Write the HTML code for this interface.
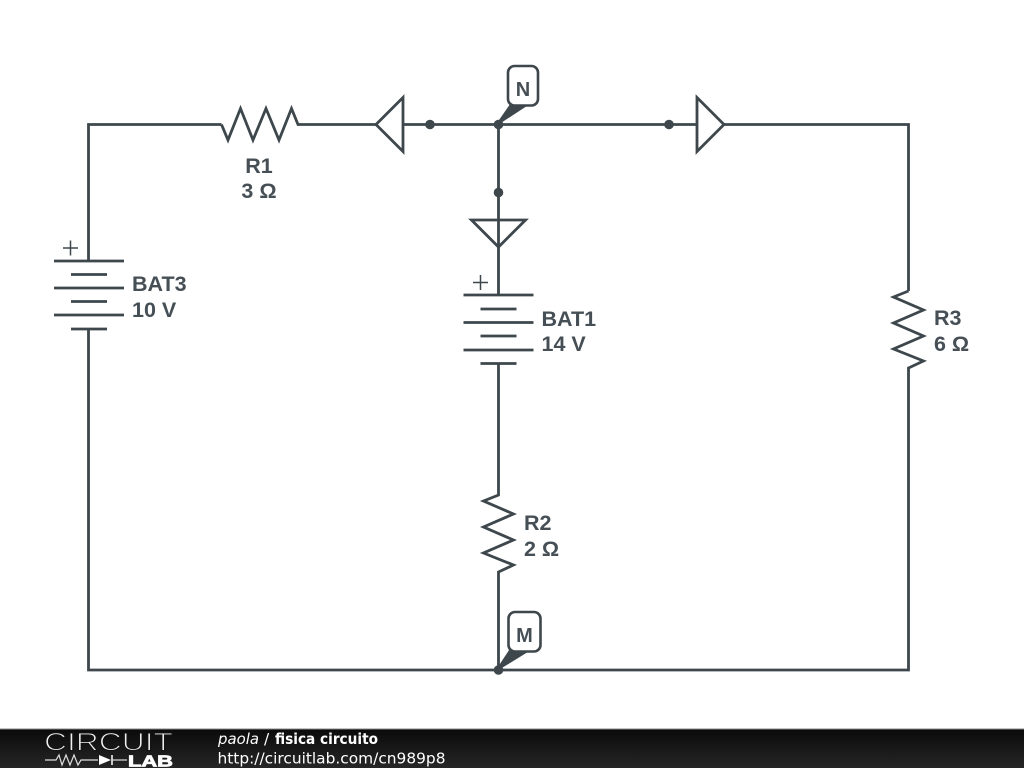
<!DOCTYPE html>
<html>
<head>
<meta charset="utf-8">
<style>
html,body{margin:0;padding:0;background:#fff;width:1024px;height:768px;overflow:hidden}
svg{display:block}
.l{font-family:"Liberation Sans",sans-serif;font-weight:bold;font-size:21.5px;fill:#454f55}
.f{font-family:"DejaVu Sans",sans-serif;font-size:15.3px;fill:#fff}
</style>
</head>
<body>
<svg width="1024" height="768" viewBox="0 0 1024 768" xmlns="http://www.w3.org/2000/svg">
<defs>
<linearGradient id="g" x1="0" y1="0" x2="0" y2="1">
<stop offset="0" stop-color="#0a0a0a"/><stop offset="1" stop-color="#262626"/>
</linearGradient>
</defs>
<rect width="1024" height="768" fill="#fff"/>
<g fill="none" stroke="#3d474c" stroke-width="2.8" stroke-linejoin="miter" stroke-miterlimit="4">
<!-- wires -->
<polyline points="88.5,261 88.5,124.5 221.5,124.5"/>
<polyline points="221.5,124.5 228,140 240.5,108.5 253,140 266,108.5 279,140 291.5,108.5 298,124.5 376,124.5"/>
<line x1="403" y1="124.5" x2="697" y2="124.5"/>
<polyline points="724,124.5 908.5,124.5 908.5,291"/>
<polyline points="908.5,291 893.5,297 923.5,310 893.5,323 923.5,336 893.5,349 923.5,361 908.5,368 908.5,670 88.5,670 88.5,329"/>
<line x1="498.5" y1="124.5" x2="498.5" y2="295"/>
<polyline points="498.5,363 498.5,495 483.5,501 513.5,514 483.5,527 513.5,540 483.5,553 513.5,565 498.5,572 498.5,670"/>
<!-- triangles -->
<polygon points="376,124.5 403,97.5 403,151.5"/>
<polygon points="724,124.5 697,97.5 697,151.5"/>
<polygon points="471.5,220 525.5,220 498.5,247"/>
<!-- BAT3 -->
<line x1="54" y1="261" x2="124" y2="261"/>
<line x1="71" y1="274.5" x2="107" y2="274.5"/>
<line x1="54" y1="288" x2="124" y2="288"/>
<line x1="71" y1="301.5" x2="107" y2="301.5"/>
<line x1="54" y1="315" x2="124" y2="315"/>
<line x1="71" y1="329" x2="107" y2="329"/>
<!-- BAT1 -->
<line x1="463.5" y1="295" x2="533.5" y2="295"/>
<line x1="480.5" y1="309" x2="516.5" y2="309"/>
<line x1="463.5" y1="322.5" x2="533.5" y2="322.5"/>
<line x1="480.5" y1="336" x2="516.5" y2="336"/>
<line x1="463.5" y1="350" x2="533.5" y2="350"/>
<line x1="480.5" y1="363.5" x2="516.5" y2="363.5"/>
</g>
<!-- plus signs -->
<g stroke="#3d474c" stroke-width="1.5" fill="none">
<line x1="63" y1="248" x2="78" y2="248"/><line x1="70.5" y1="240.5" x2="70.5" y2="255.5"/>
<line x1="473" y1="282.5" x2="488" y2="282.5"/><line x1="480.5" y1="275" x2="480.5" y2="290"/>
</g>
<!-- dots -->
<g fill="#3d474c">
<circle cx="430" cy="124.5" r="4.8"/>
<circle cx="498.5" cy="124.5" r="4.8"/>
<circle cx="669" cy="124.5" r="4.8"/>
<circle cx="498.5" cy="192.5" r="4.8"/>
<circle cx="498.5" cy="670" r="4.8"/>
<!-- tag pointers -->
<polygon points="498.5,123 511,105 526,105" stroke="#3d474c" stroke-width="2.6" stroke-linejoin="round"/>
<polygon points="498.5,668.5 510,651 527,651" stroke="#3d474c" stroke-width="2.6" stroke-linejoin="round"/>
</g>
<!-- tags -->
<g fill="#fff" stroke="#3d474c" stroke-width="2.6">
<rect x="508" y="66" width="30" height="39.5" rx="6.5"/>
<rect x="508.5" y="612" width="32" height="39.5" rx="6.5"/>
</g>
<text class="l" x="523" y="96" text-anchor="middle" style="font-size:20px">N</text>
<text class="l" x="524.5" y="642" text-anchor="middle" style="font-size:20px">M</text>
<!-- labels -->
<text class="l" x="259" y="173" text-anchor="middle">R1</text>
<text class="l" x="259" y="198" text-anchor="middle">3 Ω</text>
<text class="l" x="132" y="291">BAT3</text>
<text class="l" x="132" y="317">10 V</text>
<text class="l" x="541.5" y="326">BAT1</text>
<text class="l" x="541.5" y="351">14 V</text>
<text class="l" x="524" y="530">R2</text>
<text class="l" x="524" y="556">2 Ω</text>
<text class="l" x="934" y="325">R3</text>
<text class="l" x="934" y="351">6 Ω</text>
<!-- footer -->
<rect x="0" y="729" width="1024" height="39" fill="url(#g)"/>
<line x1="0" y1="729" x2="1024" y2="729" stroke="#888" stroke-width="1"/>
<text x="44" y="750.5" textLength="129" lengthAdjust="spacingAndGlyphs" style="font-family:'Liberation Sans',sans-serif;font-size:25px;paint-order:fill stroke" fill="#f0f0f0" stroke="#141414" stroke-width="1.1">CIRCUIT</text>
<text x="128" y="766.5" textLength="45" lengthAdjust="spacingAndGlyphs" style="font-family:'Liberation Sans',sans-serif;font-weight:bold;font-size:16px" fill="#fff" stroke="#fff" stroke-width="0.8">LAB</text>
<polyline points="45,760 56,760 59,755 62,765 66,755 70,765 74,755 78,765 81,760 98,760" fill="none" stroke="#e0e0e0" stroke-width="1.2"/>
<polygon points="99,755 99,765 111,760" fill="#fff"/>
<line x1="112" y1="755" x2="112" y2="765" stroke="#fff" stroke-width="1.5"/>
<line x1="112" y1="760" x2="127" y2="760" stroke="#e0e0e0" stroke-width="1.2"/>
<text class="f" x="218" y="744" font-style="italic" textLength="41" lengthAdjust="spacingAndGlyphs">paola</text>
<text class="f" x="264" y="744">/</text>
<text class="f" x="275" y="744" font-weight="bold" textLength="103" lengthAdjust="spacingAndGlyphs">fisica circuito</text>
<text class="f" x="217.5" y="763.5" textLength="228" lengthAdjust="spacingAndGlyphs">http://circuitlab.com/cn989p8</text>
</svg>
</body>
</html>
